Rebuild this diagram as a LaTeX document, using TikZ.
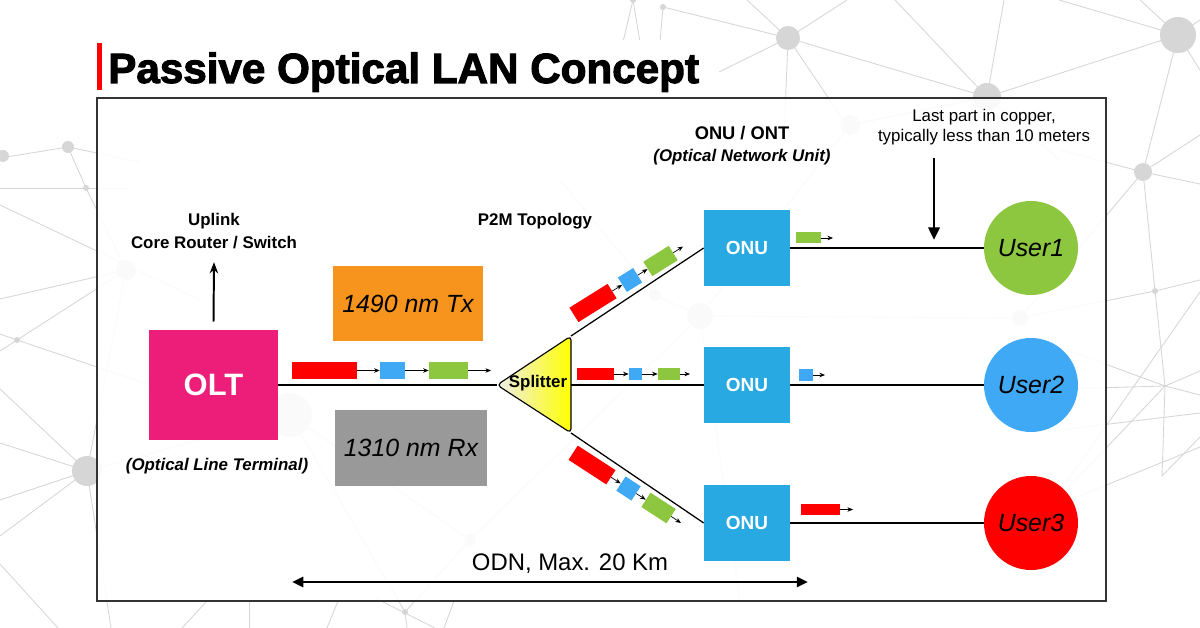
\documentclass[tikz,border=0pt]{standalone}
\usepackage{fontspec}
\setmainfont{Liberation Sans}
\newfontfamily\titulofonte{Liberation Sans}[FakeBold=2.4]
\usetikzlibrary{arrows.meta}

\newcommand{\pu}{0.025cm}

\definecolor{corolt}{HTML}{EC1E79}
\definecolor{coronu}{HTML}{29A9E1}
\definecolor{corlaranja}{HTML}{F7941D}
\definecolor{corcinza}{HTML}{999999}
\definecolor{corverde}{HTML}{8DC63F}
\definecolor{corazul}{HTML}{3FA9F5}
\definecolor{corvermelho}{HTML}{FF0000}
\definecolor{correde}{HTML}{D6D6D6}

\tikzset{
	caixa/.style={inner sep=0pt, text=white, font=\bfseries},
	pacote/.style={inner sep=0pt, minimum height=17*\pu},
	pacotinho/.style={inner sep=0pt, minimum height=11*\pu},
	seta/.style={-{Stealth[length=4pt,width=3.2pt]}, line width=0.5pt},
	fibra/.style={line width=0.9pt},
	usuario/.style={circle, inner sep=0pt, minimum size=94*\pu, font=\fontsize{17.7}{20}\selectfont\itshape},
	rede/.style={draw=correde, line width=0.6pt},
	rotulo/.style={font=\fontsize{12}{16.3}\selectfont\bfseries, align=center},
}

\begin{document}
\begin{tikzpicture}[x=0.025cm, y=-0.025cm]
	\useasboundingbox (0,0) rectangle (1200,628);
	\fill[white] (0,0) rectangle (1200,628);

% fundo
	\foreach \xa/\ya/\xb/\yb in {633/0/623/42, 633/0/640/42, 663/7/660/42, 663/7/788/38,
		788/38/747/0, 788/38/847/0, 788/38/719/72, 788/38/784/140, 788/38/850/130,
		788/38/987/97, 987/97/1004/0, 987/97/895/0, 987/97/1178/35, 987/97/1060/160,
		987/97/850/125, 1178/35/1059/0, 1178/35/1140/0, 1178/35/1200/20, 1178/35/1200/70,
		1178/35/1143/172, 1143/172/1200/135, 1143/172/1200/184, 1143/172/1060/150,
		1143/172/1020/318, 1143/172/1155/291, 1155/291/1165/386, 1155/291/1200/280,
		1155/291/1020/318, 1165/386/1200/371, 1165/386/1200/395, 1165/386/1060/389,
		1165/386/1040/340, 1165/386/1000/560, 1165/386/1162/476, 1162/476/1200/437,
		1060/430/1200/413, 1020/520/1200/447, 1200/292/1040/520,
		0/158/68/147, 68/147/86/188, 86/188/126/270, 68/147/140/162,
		0/188/130/188, 0/205/200/300, 0/299/126/270, 0/334/17/340, 17/340/180/395,
		0/351/17/340, 17/340/126/270, 0/389/87/471, 0/443/87/471, 0/500/87/471,
		0/536/87/471, 0/564/58/628, 87/471/126/270, 87/471/111/628, 87/471/290/415,
		182/628/207/601, 249/601/249/628, 327/628/338/601, 375/598/435/628,
		405/612/407/628, 444/628/454/601, 405/612/290/415, 405/612/470/540,
		700/316/655/295, 700/316/1020/318, 700/316/850/125, 655/295/560/180,
		850/125/987/97, 700/316/740/600, 290/415/470/540, 470/540/700/316}
		\draw[rede] (\xa,\ya) -- (\xb,\yb);
	\foreach \cx/\cy/\r in {633/0/3, 663/7/3, 788/38/12, 987/97/14, 1178/35/18, 3/156/6,
		68/147/6, 86/188/3, 17/340/3, 87/471/15, 1143/172/9, 1155/291/3, 405/612/3,
		290/415/22, 700/316/13, 655/295/6, 850/125/10, 1020/318/8, 126/270/10, 470/540/6}
		\fill[correde] (\cx,\cy) circle[radius=\r];
	\fill[white] (97,40) rectangle (712,98);
	\fill[white, opacity=0.9] (97,98) rectangle (1106,601);

% titulo
	\fill[corvermelho] (97,43) rectangle (102,90);
	\node[anchor=base west, inner sep=0pt, font=\titulofonte\bfseries\fontsize{30}{34}\selectfont] (titulo) at (108,83) {Passive Optical LAN Concept};
	\draw[draw=black!80, line width=1pt] (97,98) rectangle (1106,601);

% OLT
	\node[caixa, fill=corolt, minimum width=129*\pu, minimum height=110*\pu, font=\fontsize{22}{26}\selectfont\bfseries] (olt) at (213.5,385) {OLT};
	\node[rotulo, font=\fontsize{12}{14}\selectfont\bfseries\itshape] (oltnome) at (217,466) {(Optical Line Terminal)};
	\node[rotulo] (uplink) at (214,231) {Uplink\\Core Router / Switch};
	\draw[-{Stealth[length=8pt,width=6pt]}, line width=1.4pt] (olt.north) ++(0,-8) -- ([yshift=-6pt]uplink.south);

	\node[inner sep=0pt, fill=corlaranja, minimum width=150*\pu, minimum height=75*\pu, font=\fontsize{17.7}{20}\selectfont\itshape] (tx) at (408,303.5) {1490 nm Tx};
	\node[inner sep=0pt, fill=corcinza, minimum width=152*\pu, minimum height=76*\pu, font=\fontsize{17.7}{20}\selectfont\itshape] (rx) at (411,448) {1310 nm Rx};

% splitter
	\coordinate (spltip) at (497,385);
	\coordinate (spltop) at (571,336);
	\coordinate (splbot) at (571,433);
	\coordinate (splmid) at (571,385);
	\draw[fibra] (olt) -- (spltip);
	\shade[draw, line width=0.8pt, left color=black!7, right color=yellow, rounded corners=3pt] (spltip) -- (spltop) -- (splbot) -- cycle;
	\node[font=\fontsize{12}{14}\selectfont\bfseries] (splitter) at (538,383) {Splitter};
	\node[rotulo] (topologia) at (535,221) {P2M Topology};

% ONU e usuarios
	\foreach \i/\y/\cor in {1/248/corverde, 2/385/corazul, 3/523/corvermelho} {
		\node[caixa, fill=coronu, minimum width=86*\pu, minimum height=76*\pu, font=\fontsize{13.5}{16}\selectfont\bfseries] (onu\i) at (747,\y) {ONU};
		\node[usuario, fill=\cor] (user\i) at (1031,\y) {User\i};
		\draw[fibra] (onu\i) -- (user\i);
	}
	\draw[fibra] (spltop) -- (onu1.west);
	\draw[fibra] (splmid) -- (onu2);
	\draw[fibra] (splbot) -- (onu3.west);
	\node[font=\fontsize{13}{15}\selectfont\bfseries] (onunome) at (742,133) {ONU / ONT};
	\node[font=\fontsize{12}{14}\selectfont\bfseries\itshape] (onudesc) at (742,157) {(Optical Network Unit)};

% pacotes
	\node[pacote, fill=corvermelho, minimum width=65*\pu] (p1) at (324.5,370.5) {};
	\node[pacote, fill=corazul, minimum width=25*\pu] (p2) at (392.5,370.5) {};
	\node[pacote, fill=corverde, minimum width=39*\pu] (p3) at (448.5,370.5) {};
	\coordinate (p4) at (491,370.5);

	\node[pacote, fill=corvermelho, minimum width=45*\pu, rotate=32] (t1) at (593,303) {};
	\node[pacote, fill=corazul, minimum width=18*\pu, rotate=32] (t2) at (630,280) {};
	\node[pacote, fill=corverde, minimum width=30*\pu, rotate=32] (t3) at (660.5,261) {};
	\coordinate (t4) at (683,246.5);

	\node[pacotinho, minimum height=12*\pu, fill=corvermelho, minimum width=37*\pu] (m1) at (595.5,374) {};
	\node[pacotinho, minimum height=12*\pu, fill=corazul, minimum width=13*\pu] (m2) at (635.5,374) {};
	\node[pacotinho, minimum height=12*\pu, fill=corverde, minimum width=22*\pu] (m3) at (669,374) {};
	\coordinate (m4) at (690,374);

	\node[pacote, fill=corvermelho, minimum width=45*\pu, rotate=-33] (b1) at (592,465) {};
	\node[pacote, fill=corazul, minimum width=18*\pu, rotate=-33] (b2) at (628.5,488.5) {};
	\node[pacote, fill=corverde, minimum width=30*\pu, rotate=-33] (b3) at (658.5,508) {};
	\coordinate (b4) at (681,523);

	\node[pacotinho, fill=corverde, minimum width=25*\pu] (s1) at (808.5,238) {};
	\coordinate (s1f) at (833,238);
	\node[pacotinho, fill=corazul, minimum width=14*\pu] (s2) at (806,375) {};
	\coordinate (s2f) at (825,375);
	\node[pacotinho, fill=corvermelho, minimum width=39*\pu] (s3) at (820.5,509.5) {};
	\coordinate (s3f) at (853,509.5);

	\foreach \a/\b in {p1/p2, p2/p3, p3/p4, t1/t2, t2/t3, t3/t4, m1/m2, m2/m3, m3/m4,
		b1/b2, b2/b3, b3/b4, s1/s1f, s2/s2f, s3/s3f}
		\draw[seta] (\a) -- (\b);

% cobre
	\node[align=center, font=\fontsize{12}{14.2}\selectfont] (cobre) at (984,127) {Last part in copper,\\typically less than 10 meters};
	\coordinate (cobrefim) at (934,240);
	\draw[-{Triangle[length=9pt,width=8pt]}, line width=2pt] (cobrefim |- cobre.south) ++(0,8) -- (cobrefim);

% ODN
	\node[font=\fontsize{17}{20}\selectfont] (odn) at (570,564) {ODN, Max. 20 Km};
	\coordinate (odnini) at (292,582);
	\coordinate (odnfim) at (808,582);
	\draw[{Triangle[length=8pt,width=7pt]}-{Triangle[length=8pt,width=7pt]}, line width=2pt] (odnini) -- (odnfim);
\end{tikzpicture}
\end{document}
